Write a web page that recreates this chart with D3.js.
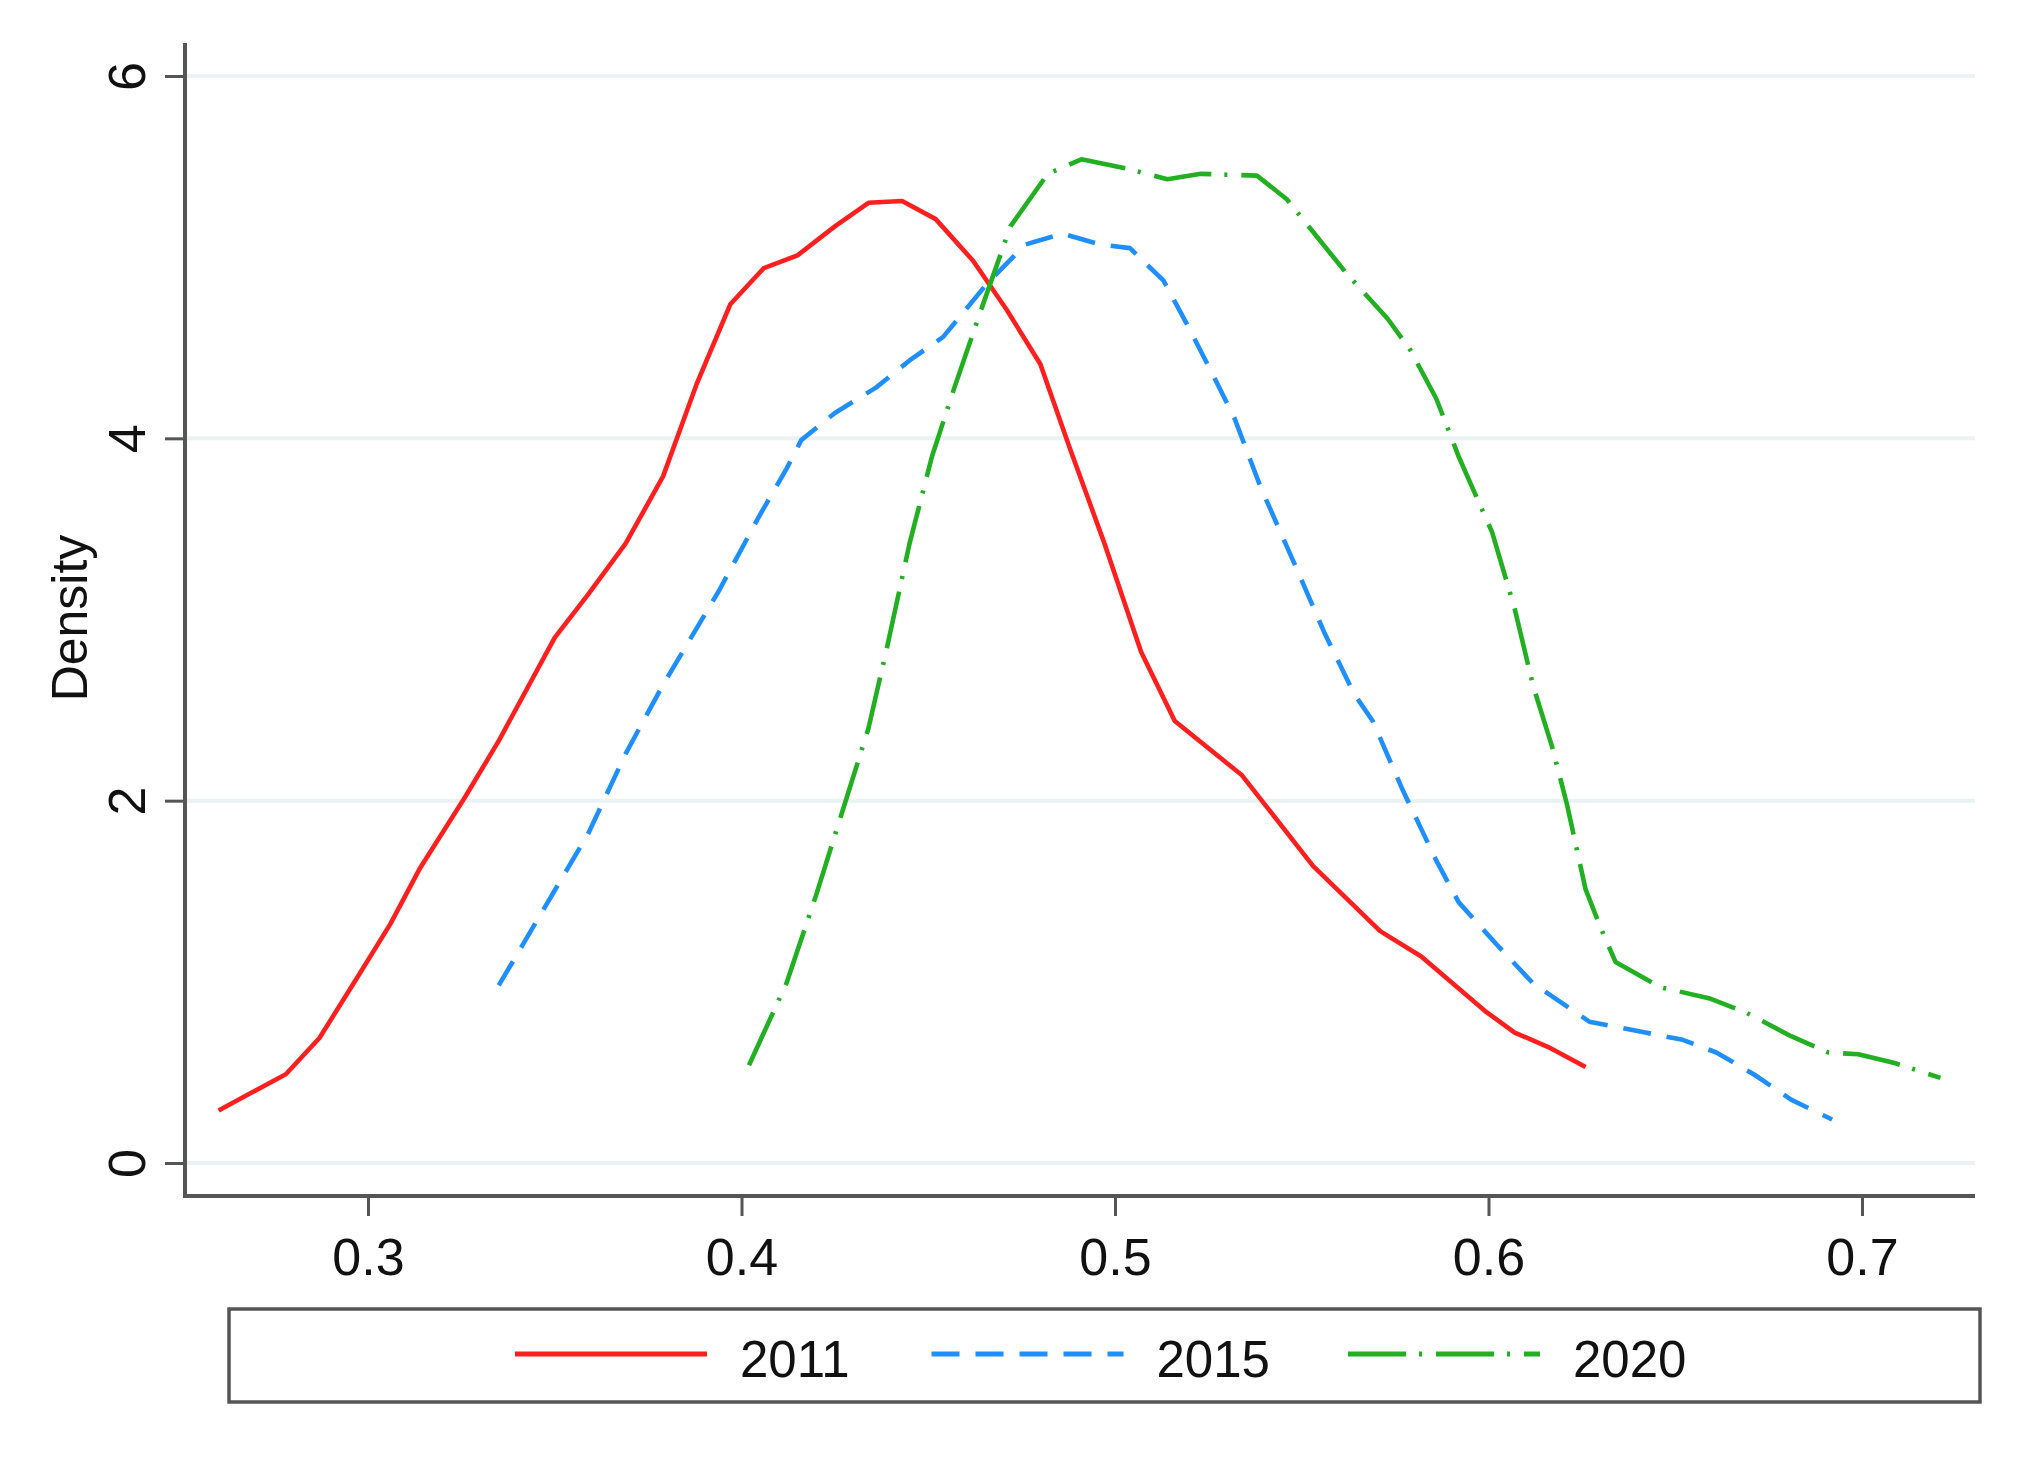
<!DOCTYPE html>
<html>
<head>
<meta charset="utf-8">
<script src="https://cdn.jsdelivr.net/npm/d3@7"></script>
<style>
  html, body { margin: 0; padding: 0; background: #fff; }
  svg { display: block; font-family: "Liberation Sans", Arial, sans-serif; }
</style>
</head>
<body>
<svg id="chart"></svg>
<script>
// values
const xTicks = [0.3, 0.4, 0.5, 0.6, 0.7];
const yTicks = [0, 2, 4, 6];
const years = ["2011", "2015", "2020"];

const x2011 = [0.260, 0.269, 0.278, 0.287, 0.297, 0.306, 0.314, 0.326, 0.335, 0.350, 0.359, 0.369, 0.379, 0.388, 0.397, 0.406, 0.415, 0.425, 0.434, 0.443, 0.452, 0.462, 0.471, 0.480, 0.488, 0.497, 0.507, 0.516, 0.534, 0.553, 0.571, 0.582, 0.599, 0.607, 0.616, 0.626];
const y2011 = [0.29, 0.39, 0.49, 0.69, 1.02, 1.32, 1.63, 2.02, 2.33, 2.90, 3.14, 3.42, 3.79, 4.30, 4.74, 4.94, 5.01, 5.17, 5.30, 5.31, 5.21, 4.98, 4.71, 4.41, 3.94, 3.43, 2.82, 2.44, 2.14, 1.64, 1.28, 1.14, 0.84, 0.72, 0.64, 0.53];

const x2015 = [0.335, 0.347, 0.359, 0.369, 0.379, 0.394, 0.405, 0.412, 0.416, 0.425, 0.436, 0.445, 0.454, 0.466, 0.476, 0.486, 0.496, 0.504, 0.513, 0.519, 0.526, 0.532, 0.539, 0.548, 0.556, 0.564, 0.569, 0.577, 0.586, 0.592, 0.602, 0.612, 0.627, 0.642, 0.652, 0.661, 0.671, 0.681, 0.692];
const y2015 = [0.98, 1.40, 1.82, 2.26, 2.64, 3.16, 3.58, 3.83, 3.99, 4.14, 4.28, 4.43, 4.56, 4.86, 5.07, 5.13, 5.07, 5.05, 4.87, 4.64, 4.36, 4.11, 3.73, 3.31, 2.93, 2.59, 2.44, 2.06, 1.67, 1.44, 1.21, 0.99, 0.78, 0.72, 0.68, 0.61, 0.49, 0.35, 0.24];

const x2020 = [0.402, 0.412, 0.420, 0.427, 0.434, 0.439, 0.445, 0.451, 0.457, 0.464, 0.472, 0.482, 0.491, 0.503, 0.514, 0.523, 0.538, 0.546, 0.553, 0.562, 0.573, 0.579, 0.586, 0.592, 0.601, 0.607, 0.612, 0.617, 0.621, 0.626, 0.630, 0.634, 0.646, 0.659, 0.669, 0.681, 0.691, 0.699, 0.709, 0.721];
const y2020 = [0.54, 0.99, 1.48, 1.94, 2.40, 2.85, 3.42, 3.90, 4.28, 4.70, 5.17, 5.46, 5.54, 5.49, 5.43, 5.46, 5.45, 5.32, 5.14, 4.91, 4.66, 4.49, 4.22, 3.90, 3.48, 3.06, 2.63, 2.30, 1.98, 1.51, 1.30, 1.11, 0.97, 0.91, 0.83, 0.70, 0.61, 0.60, 0.55, 0.47];

const width = 2042;
const height = 1460;

const plot = { left: 185, right: 1975, top: 43, bottom: 1196 };

const svg = d3.select("#chart").attr("width", width).attr("height", height);

const x = d3.scaleLinear().domain([0.3, 0.7]).range([368, 1862]);
const y = d3.scaleLinear().domain([0, 6]).range([1163, 76]);

const axisColor = "#555";
const fontSize = 52;

// gridlines
svg.append("g")
  .selectAll("line")
  .data(yTicks)
  .join("line")
  .attr("x1", plot.left + 2)
  .attr("x2", plot.right)
  .attr("y1", d => y(d))
  .attr("y2", d => y(d))
  .attr("stroke", "#eaf2f3")
  .attr("stroke-width", 4);

// series
const series = [
  { name: years[0], xs: x2011, ys: y2011, color: "#ff1f1f", dash: null },
  { name: years[1], xs: x2015, ys: y2015, color: "#1f8fff", dash: "28,16" },
  { name: years[2], xs: x2020, ys: y2020, color: "#22b022", dash: "58,13,3,14" }
];

const line = d3.line().x(d => x(d[0])).y(d => y(d[1]));

svg.append("g")
  .selectAll("path")
  .data(series)
  .join("path")
  .attr("d", s => line(s.xs.map((v, i) => [v, s.ys[i]])))
  .attr("fill", "none")
  .attr("stroke", s => s.color)
  .attr("stroke-width", 4.6)
  .attr("stroke-linejoin", "round")
  .attr("stroke-dasharray", s => s.dash);

// x axis
const xAxis = svg.append("g")
  .attr("transform", `translate(0,${plot.bottom})`)
  .call(d3.axisBottom(x).tickValues(xTicks).tickSize(20).tickFormat(d3.format(".1f")));
xAxis.select(".domain").remove();
xAxis.selectAll(".tick line").attr("stroke", axisColor).attr("stroke-width", 3);
xAxis.selectAll(".tick text")
  .attr("y", 42)
  .attr("dy", "0.71em")
  .attr("fill", "#111")
  .style("font-size", fontSize + "px")
  .style("font-family", "Liberation Sans, Arial, sans-serif");

// y axis
const yAxis = svg.append("g")
  .attr("transform", `translate(${plot.left},0)`)
  .call(d3.axisLeft(y).tickValues(yTicks).tickSize(20).tickFormat(d3.format("d")));
yAxis.select(".domain").remove();
yAxis.selectAll(".tick line").attr("stroke", axisColor).attr("stroke-width", 3);
yAxis.selectAll(".tick text")
  .attr("transform", "rotate(-90)")
  .attr("x", 0)
  .attr("y", -40)
  .attr("dy", 0)
  .attr("text-anchor", "middle")
  .attr("fill", "#111")
  .style("font-size", fontSize + "px")
  .style("font-family", "Liberation Sans, Arial, sans-serif");

// axis lines
svg.append("line")
  .attr("x1", plot.left).attr("x2", plot.left)
  .attr("y1", plot.top).attr("y2", plot.bottom + 2)
  .attr("stroke", axisColor).attr("stroke-width", 4);
svg.append("line")
  .attr("x1", plot.left - 2).attr("x2", plot.right)
  .attr("y1", plot.bottom).attr("y2", plot.bottom)
  .attr("stroke", axisColor).attr("stroke-width", 4);

// y title
svg.append("text")
  .attr("transform", "translate(87,618) rotate(-90)")
  .attr("text-anchor", "middle")
  .attr("fill", "#111")
  .style("font-size", "50px")
  .text("Density");

// legend
const legend = svg.append("g");
legend.append("rect")
  .attr("x", 229).attr("y", 1309)
  .attr("width", 1751).attr("height", 93)
  .attr("fill", "#fff")
  .attr("stroke", axisColor)
  .attr("stroke-width", 3.5);

const entry = legend.selectAll("g.entry")
  .data(series)
  .join("g")
  .attr("class", "entry")
  .attr("transform", (d, i) => `translate(${515 + i * 416.5},1354)`);

entry.append("line")
  .attr("x1", 0).attr("x2", 192)
  .attr("y1", 0).attr("y2", 0)
  .attr("stroke", d => d.color)
  .attr("stroke-width", 5)
  .attr("stroke-dasharray", d => d.dash);

entry.append("text")
  .attr("x", 225)
  .attr("y", 23)
  .attr("fill", "#111")
  .style("font-size", "51px")
  .text(d => d.name);
</script>
</body>
</html>
